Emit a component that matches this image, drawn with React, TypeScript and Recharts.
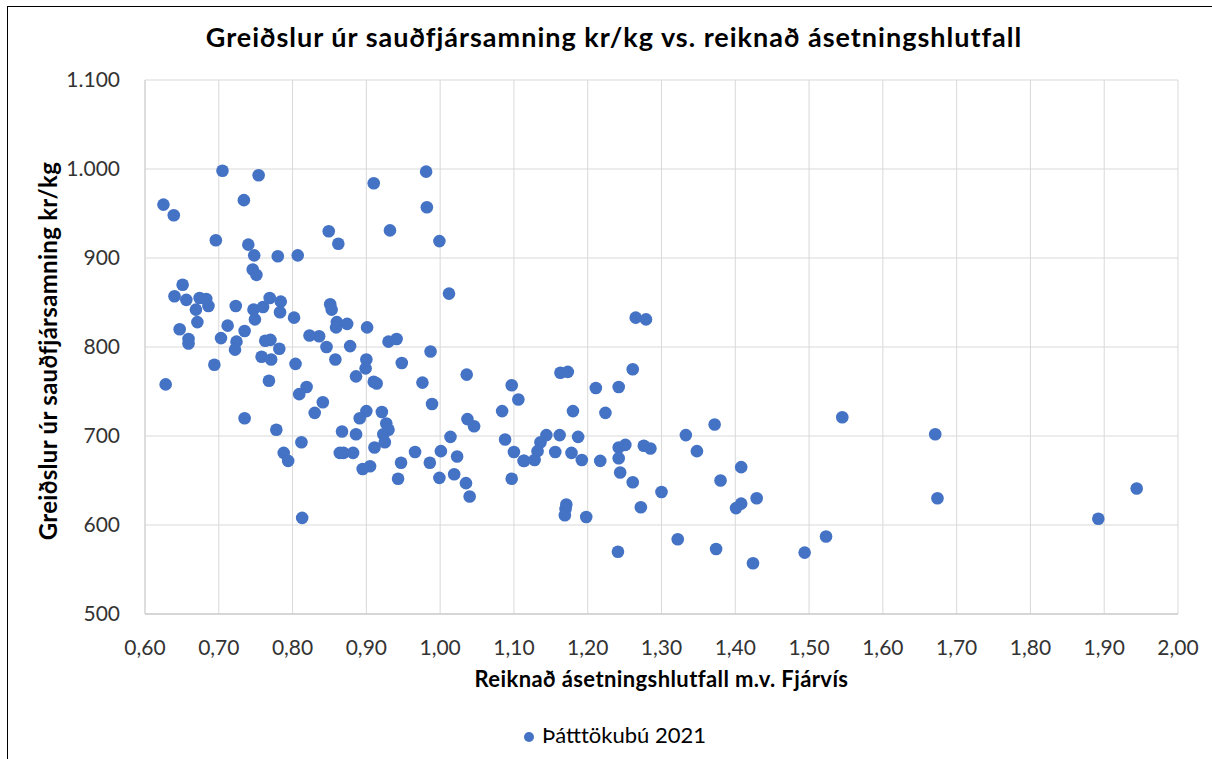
import React from 'react';
import {
  ScatterChart,
  Scatter,
  XAxis,
  YAxis,
  CartesianGrid,
  Legend,
} from 'recharts';

// Reiknað ásetningshlutfall m.v. Fjárvís (x)
const ratio = [
  0.705, 0.754, 0.625, 0.639, 0.734, 0.696, 0.740, 0.748, 0.780, 0.807,
  0.849, 0.862, 0.746, 0.751, 0.651, 0.640, 0.656, 0.674, 0.683, 0.669,
  0.686, 0.723, 0.747, 0.760, 0.769, 0.784, 0.783, 0.749, 0.802, 0.647,
  0.671, 0.712, 0.735, 0.659, 0.659, 0.703, 0.724, 0.722, 0.763, 0.770,
  0.782, 0.823, 0.836, 0.846, 0.758, 0.771, 0.804, 0.858, 0.694, 0.628,
  0.768, 0.819, 0.809, 0.841, 0.830, 0.735, 0.778, 0.812, 0.788, 0.794,
  0.813, 0.867, 0.864, 0.910, 0.981, 0.982, 0.932, 0.999, 1.012, 0.851,
  0.853, 0.860, 0.859, 0.874, 0.901, 0.930, 0.941, 0.878, 0.987, 0.900,
  0.899, 0.948, 0.886, 0.910, 0.914, 0.976, 1.036, 1.097, 1.106, 0.989,
  1.084, 0.900, 0.891, 0.921, 0.927, 0.930, 0.923, 0.925, 0.911, 0.886,
  0.869, 0.882, 0.895, 0.905, 0.947, 0.943, 0.966, 0.986, 1.001, 1.014,
  1.023, 0.999, 1.019, 1.035, 1.040, 1.037, 1.046, 1.088, 1.100, 1.113,
  1.097, 1.265, 1.279, 1.163, 1.173, 1.211, 1.242, 1.261, 1.180, 1.224,
  1.372, 1.144, 1.136, 1.132, 1.162, 1.187, 1.333, 1.156, 1.178, 1.114,
  1.128, 1.192, 1.217, 1.242, 1.251, 1.242, 1.276, 1.285, 1.348, 1.244,
  1.261, 1.300, 1.272, 1.380, 1.171, 1.170, 1.169, 1.198, 1.322, 1.241,
  1.374, 1.408, 1.429, 1.408, 1.401, 1.545, 1.671, 1.674, 1.424, 1.494,
  1.523, 1.892, 1.944,
];

// Greiðslur úr sauðfjársamning kr/kg (y)
const payment = [
  998, 993, 960, 948, 965, 920, 915, 903, 902, 903,
  930, 916, 887, 881, 870, 857, 853, 855, 854, 842,
  846, 846, 842, 845, 855, 851, 839, 831, 833, 820,
  828, 824, 818, 809, 804, 810, 806, 797, 807, 808,
  798, 813, 812, 800, 789, 786, 781, 786, 780, 758,
  762, 755, 747, 738, 726, 720, 707, 693, 681, 672,
  608, 705, 681, 984, 997, 957, 931, 919, 860, 848,
  842, 828, 822, 826, 822, 806, 809, 801, 795, 786,
  776, 782, 767, 761, 759, 760, 769, 757, 741, 736,
  728, 728, 720, 727, 714, 707, 702, 693, 687, 702,
  681, 681, 663, 666, 670, 652, 682, 670, 683, 699,
  677, 653, 657, 647, 632, 719, 711, 696, 682, 672,
  652, 833, 831, 771, 772, 754, 755, 775, 728, 726,
  713, 701, 693, 683, 701, 699, 701, 682, 681, 672,
  673, 673, 672, 687, 690, 675, 689, 686, 683, 659,
  648, 637, 620, 650, 623, 618, 611, 609, 584, 570,
  573, 665, 630, 624, 619, 721, 702, 630, 557, 569,
  587, 607, 641,
];

const xTicks = [0.6, 0.7, 0.8, 0.9, 1.0, 1.1, 1.2, 1.3, 1.4, 1.5, 1.6, 1.7, 1.8, 1.9, 2.0];
const yTicks = [500, 600, 700, 800, 900, 1000, 1100];

const seriesName = 'Þátttökubú 2021';
const title = 'Greiðslur úr sauðfjársamning kr/kg vs. reiknað ásetningshlutfall';
const xTitle = 'Reiknað ásetningshlutfall m.v. Fjárvís';
const yTitle = 'Greiðslur úr sauðfjársamning kr/kg';

const data = ratio.map((r, i) => ({ ratio: r, payment: payment[i] }));

const fmtX = (v: number) => v.toFixed(2).replace('.', ',');
const fmtY = (v: number) => {
  if (v < 1000) return String(v);
  const s = String(v);
  return s.slice(0, s.length - 3) + '.' + s.slice(s.length - 3);
};

const tickStyle = { fill: '#333', fontSize: 21, fontFamily: 'Lato' };

export default function App() {
  return (
    <div
      style={{
        position: 'absolute',
        left: 0,
        top: 0,
        width: 1212,
        height: 759,
        background: '#fff',
        fontFamily: 'Lato',
        overflow: 'hidden',
      }}
    >
      <div
        style={{
          position: 'absolute',
          left: 7,
          top: 6,
          width: 1220,
          height: 770,
          borderLeft: '1.5px solid #000',
          borderTop: '1.5px solid #000',
        }}
      />
      <svg width={1212} height={60} style={{ position: 'absolute', left: 0, top: 0 }}>
        <text
          x={614}
          y={47}
          textAnchor="middle"
          fontSize={27}
          fontWeight="bold"
          letterSpacing={1}
          fill="#000"
        >
          {title}
        </text>
      </svg>
      <div style={{ position: 'absolute', left: 0, top: 0 }}>
        <ScatterChart
          width={1212}
          height={759}
          margin={{ top: 80, right: 34, left: 0, bottom: 65 }}
        >
          <CartesianGrid stroke="#d9d9d9" />
          <XAxis
            type="number"
            dataKey="ratio"
            domain={[0.6, 2]}
            ticks={xTicks}
            interval={0}
            tickFormatter={fmtX}
            height={80}
            tickLine={false}
            tickSize={0}
            tickMargin={26}
            axisLine={{ stroke: '#cfcfcf', strokeWidth: 1.5 }}
            tick={tickStyle}
            label={{
              content: (props: any) => {
                const vb = props.viewBox;
                return (
                  <text
                    x={vb.x + vb.width / 2}
                    y={vb.y + 73}
                    textAnchor="middle"
                    fontSize={22}
                    fontWeight="bold"
                    letterSpacing={0.4}
                    fill="#000"
                  >
                    {xTitle}
                  </text>
                );
              },
            }}
          />
          <YAxis
            type="number"
            dataKey="payment"
            domain={[500, 1100]}
            ticks={yTicks}
            interval={0}
            tickFormatter={fmtY}
            width={145}
            tickLine={false}
            tickSize={0}
            tickMargin={25}
            axisLine={{ stroke: '#cfcfcf', strokeWidth: 1 }}
            tick={tickStyle}
            label={{
              content: (props: any) => {
                const vb = props.viewBox;
                const cy = vb.y + vb.height / 2 + 4;
                return (
                  <text
                    transform={`translate(57, ${cy}) rotate(-90)`}
                    textAnchor="middle"
                    fontSize={24}
                    fontWeight="bold"
                    letterSpacing={0.3}
                    fill="#000"
                  >
                    {yTitle}
                  </text>
                );
              },
            }}
          />
          <Legend
            layout="horizontal"
            verticalAlign="middle"
            align="center"
            iconType="circle"
            iconSize={10}
            width={1212}
            wrapperStyle={{ top: 721, left: 14, fontSize: 22, fontFamily: 'Lato' }}
            formatter={(value: string) => <span style={{ color: '#000', marginLeft: 4 }}>{value}</span>}
          />
          <Scatter
            name={seriesName}
            data={data}
            fill="#4472C4"
            isAnimationActive={false}
            shape={(props: any) => (
              <circle cx={props.cx} cy={props.cy} r={6.3} fill="#4472C4" />
            )}
          />
        </ScatterChart>
      </div>
    </div>
  );
}
